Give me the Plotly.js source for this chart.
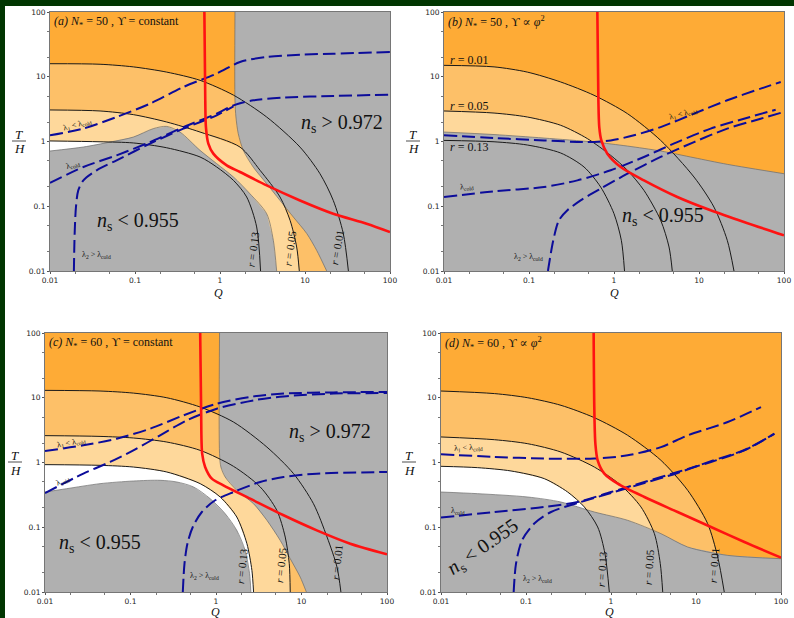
<!DOCTYPE html>
<html><head><meta charset="utf-8">
<script src="https://cdn.plot.ly/plotly-3.0.1.min.js"></script>
<style>
body{margin:0;background:#fff;}
#wrap{position:relative;width:794px;height:618px;overflow:hidden;background:#fff;}
#gtop{position:absolute;left:0;top:0;width:794px;height:6px;background:#013601;}
#gleft{position:absolute;left:0;top:0;width:5px;height:618px;background:#013601;}
#plot{position:absolute;left:0;top:0;width:794px;height:618px;}
</style></head>
<body><div id="wrap"><div id="gtop"></div><div id="gleft"></div><div id="plot"></div></div>
<script>
// ---------- tick labels ----------
const TICKS = [0.01, 0.1, 1, 10, 100];
const TICK_TEXT = ['0.01', '0.1', '1', '10', '100'];
const MINOR = [0.02, 0.05, 0.2, 0.5, 2, 5, 20, 50];

// ---------- panel (a): N*=50, Upsilon = constant ----------
const a_r01_q = [0.01,0.0388,0.0955,0.236,0.582,1.44,3.54,8.73,15.0,21.5,28.2,32.4];
const a_r01_t = [15.9,15.6,14.2,11.8,8.8,5.2,2.39,0.82,0.318,0.123,0.038,0.01];
const a_r05_q = [0.01,0.0388,0.0955,0.236,0.582,1.72,2.96,5.08,6.67,7.98,8.57];
const a_r05_t = [3.07,2.96,2.6,2.0,1.40,0.82,0.359,0.139,0.0607,0.0235,0.01];
const a_r13_q = [0.01,0.0388,0.0955,0.236,0.582,0.914,1.44,2.06,2.7,3.0];
const a_r13_t = [1.02,0.99,0.95,0.80,0.577,0.404,0.251,0.139,0.0479,0.01];
const a_lo_q = [0.01,0.0247,0.0508,0.0955,0.164,0.236,0.338,0.582,0.914,1.44,2.25,3.54,4.24,4.64];
const a_lo_t = [0.713,0.822,0.98,1.17,1.58,1.71,1.40,0.73,0.455,0.283,0.156,0.0767,0.0298,0.01];
const a_hi_q = [1.5,1.5,1.54,1.64,1.88,2.47,3.54,5.08,7.3,10.5,13.7,18.0];
const a_hi_t = [100,4.33,2.39,1.32,0.73,0.40,0.223,0.123,0.068,0.0378,0.0209,0.01];
const a_red_q = [0.655,0.671,0.683,0.729,0.835,1.2,1.72,3.54,8.73,21.5,53.1,100];
const a_red_t = [100,4.33,1.67,0.927,0.649,0.428,0.338,0.21,0.123,0.0767,0.0538,0.04];
const a_l1_q = [0.01,0.0247,0.0608,0.15,0.371,0.914,1.72,3.54,8.73,21.5,100];
const a_l1_t = [1.245,1.58,2.39,3.84,6.95,11.2,16.9,20.2,21.9,22.7,24.1];
const a_lc_q = [0.01,0.0247,0.0608,0.15,0.371,0.914,1.44,2.47,5.56,21.5,100];
const a_lc_t = [0.229,0.404,0.611,0.98,1.67,2.69,3.62,4.33,4.75,5.05,5.28];
const a_l2_q = [0.0191,0.0195,0.0202,0.0215,0.0247,0.0354,0.0608,0.15,0.371,0.914,1.44];
const a_l2_t = [0.01,0.0378,0.097,0.176,0.251,0.359,0.512,0.927,1.58,2.54,3.49];

// ---------- panel (b): N*=50, Upsilon ~ phi^2 ----------
const b_r01_q = [0.01,0.0388,0.0955,0.236,0.582,1.44,3.54,8.73,15.0,21.5,25.8];
const b_r01_t = [15.0,14.2,11.8,8.3,5.17,2.69,1.04,0.283,0.097,0.0298,0.01];
const b_r05_q = [0.01,0.0388,0.0955,0.236,0.485,0.914,1.44,2.25,3.54,4.44,4.85];
const b_r05_t = [2.96,2.75,2.39,1.78,1.11,0.611,0.359,0.176,0.0607,0.0235,0.01];
const b_r13_q = [0.01,0.0388,0.0955,0.236,0.444,0.697,1.0,1.22,1.33];
const b_r13_t = [1.04,0.99,0.883,0.664,0.404,0.198,0.0767,0.0298,0.01];
const b_lo_q = [0.01,0.0388,0.15,0.582,1.44,3.54,8.73,21.5,100];
const b_lo_t = [1.40,1.28,1.13,0.98,0.85,0.713,0.562,0.444,0.318];
const b_red_q = [0.637,0.655,0.671,0.71,0.835,1.2,2.25,5.56,13.7,33.8,100];
const b_red_t = [100,4.33,1.67,1.04,0.649,0.404,0.251,0.139,0.0866,0.0571,0.0356];
const b_l1_q = [0.01,0.0388,0.15,0.485,0.914,1.72,3.54,8.73,21.5,53.1,91.5];
const b_l1_t = [1.245,1.13,1.04,0.98,1.04,1.245,1.67,2.69,4.33,6.55,8.3];
const b_lc_q = [0.01,0.0388,0.15,0.371,0.914,2.25,5.56,13.7,33.8,79.8];
const b_lc_t = [0.139,0.17,0.198,0.251,0.359,0.577,0.98,1.58,2.25,3.1];
const b_l2_q = [0.167,0.193,0.225,0.283,0.405,0.697,1.44,3.54,8.73,21.5,53.1,100];
const b_l2_t = [0.01,0.0298,0.0607,0.0866,0.123,0.187,0.318,0.577,0.98,1.58,2.25,2.86];

// ---------- panel (c): N*=60, Upsilon = constant ----------
const c_r01_q = [0.01,0.044,0.108,0.266,0.653,1.6,3.94,8.07,13.8,19.9,26.0,28.9];
const c_r01_t = [13.0,12.7,11.8,10.0,7.19,4.22,1.73,0.673,0.231,0.0706,0.0243,0.01];
const c_r05_q = [0.01,0.044,0.108,0.266,0.653,1.6,3.29,5.15,6.45,7.19,7.38];
const c_r05_t = [2.6,2.53,2.39,2.07,1.54,0.873,0.419,0.182,0.0706,0.0274,0.01];
const c_r13_q = [0.01,0.044,0.108,0.266,0.653,1.12,1.75,2.3,2.63,2.75];
const c_r13_t = [0.927,0.904,0.851,0.713,0.471,0.293,0.144,0.0557,0.0216,0.01];
const c_lo_q = [0.01,0.0179,0.044,0.108,0.222,0.348,0.545,0.855,1.28,1.75,2.19,2.47,2.56];
const c_lo_t = [0.35,0.394,0.471,0.518,0.531,0.5,0.419,0.276,0.162,0.0895,0.044,0.0192,0.01];
const c_hi_q = [1.1,1.1,1.14,1.28,1.75,2.75,3.94,5.63,7.38,9.66,11.4];
const c_hi_t = [100,1.37,0.853,0.597,0.372,0.231,0.128,0.0628,0.0327,0.017,0.01];
const c_red_q = [0.653,0.67,0.689,0.746,0.894,1.22,2.51,6.17,15.1,37.2,100];
const c_red_t = [100,6.4,1.37,0.853,0.562,0.444,0.276,0.153,0.0895,0.0557,0.0382];
const c_l1_q = [0.01,0.0281,0.069,0.17,0.417,1.02,2.75,6.17,23.8,100];
const c_l1_t = [1.51,1.84,2.33,3.33,5.35,8.1,10.5,11.6,12.1,12.3];
const c_lc_q = [0.01,0.0281,0.0577,0.108,0.222,0.456,1.02,2.75,6.17,23.8,100];
const c_lc_t = [0.338,0.673,1.02,1.54,2.63,4.48,6.78,9.12,10.5,11.6,11.8];
const c_l2_q = [0.409,0.428,0.463,0.535,0.683,0.977,1.6,3.29,6.17,15.1,100];
const c_l2_t = [0.01,0.0274,0.0558,0.101,0.172,0.261,0.35,0.5,0.597,0.673,0.713];

// ---------- panel (d): N*=60, Upsilon ~ phi^2 ----------
const d_r01_q = [0.01,0.0424,0.105,0.258,0.637,1.57,3.87,7.98,13.7,18.0,21.5];
const d_r01_t = [12.7,11.6,10.0,7.64,4.92,2.63,1.08,0.372,0.114,0.0347,0.01];
const d_r05_q = [0.01,0.0424,0.105,0.258,0.637,1.31,2.25,3.24,3.8,4.06];
const d_r05_t = [2.48,2.25,1.95,1.45,0.851,0.444,0.206,0.0796,0.0274,0.01];
const d_r13_q = [0.01,0.027,0.0667,0.164,0.309,0.485,0.697,0.849,0.955];
const d_r13_t = [0.873,0.832,0.74,0.563,0.35,0.206,0.101,0.0391,0.01];
const d_lo_q = [0.01,0.027,0.105,0.258,0.637,1.57,3.87,7.98,23.6,100];
const d_lo_t = [0.35,0.33,0.293,0.245,0.172,0.128,0.0796,0.0495,0.0368,0.0327];
const d_red_q = [0.625,0.637,0.655,0.697,0.835,1.2,2.47,6.08,15.0,37.1,100];
const d_red_t = [100,6.4,1.95,1.08,0.673,0.471,0.293,0.172,0.101,0.0592,0.0339];
const d_l1_q = [0.01,0.0424,0.164,0.637,1.57,3.87,7.98,23.6,58.2];
const d_l1_t = [1.34,1.22,1.15,1.15,1.29,1.73,2.62,4.22,7.19];
const d_lc_q = [0.01,0.0424,0.164,0.405,1.0,2.47,6.08,15.0,37.1,83.6];
const d_lc_t = [0.141,0.172,0.206,0.245,0.35,0.5,0.713,1.02,1.54,2.79];
const d_l2_q = [0.0716,0.0763,0.0897,0.125,0.197,0.405,1.0,2.47,6.08,15.0,37.1,83.6];
const d_l2_t = [0.01,0.0274,0.0628,0.114,0.172,0.237,0.338,0.482,0.69,1.05,1.56,2.77];

// ---------- styling ----------
const COL = {dark:'#FEAB36', med:'#FDC068', light:'#FED89B', white:'#FFFFFF', grey:'#B0B0B0',
             red:'#FF1212', blue:'#0C0C9A', black:'#1a1a1a', edge:'#6a6a6a'};
const QMIN = 0.01, QMAX = 100, TMIN = 0.01, TMAX = 100;
const traces = [];
function ax(i){ return i === 1 ? '' : String(i); }
function fillUnder(i, q, t, color){
  traces.push({type:'scatter', mode:'lines', x:q.concat([QMIN]), y:t.concat([TMIN]),
    xaxis:'x'+ax(i), yaxis:'y'+ax(i), fill:'toself', fillcolor:color, line:{width:0, color:color},
    hoverinfo:'skip', showlegend:false});
}
function fillPoly(i, q, t, color){
  traces.push({type:'scatter', mode:'lines', x:q, y:t, xaxis:'x'+ax(i), yaxis:'y'+ax(i),
    fill:'toself', fillcolor:color, line:{width:0, color:color}, hoverinfo:'skip', showlegend:false});
}
function line(i, q, t, color, width, dash, shape){
  traces.push({type:'scatter', mode:'lines', x:q, y:t, xaxis:'x'+ax(i), yaxis:'y'+ax(i),
    line:{color:color, width:width, dash:dash || 'solid', shape:shape || 'spline', smoothing:0.8},
    hoverinfo:'skip', showlegend:false});
}
const DASH = '13px,5px';
const panels = [
  {i:1, r01:[a_r01_q,a_r01_t], r05:[a_r05_q,a_r05_t], r13:[a_r13_q,a_r13_t], lo:[a_lo_q,a_lo_t], loEdge:'bottom', hi:[a_hi_q,a_hi_t],
   red:[a_red_q,a_red_t], blue:[[a_l1_q,a_l1_t],[a_lc_q,a_lc_t],[a_l2_q,a_l2_t]]},
  {i:2, r01:[b_r01_q,b_r01_t], r05:[b_r05_q,b_r05_t], r13:[b_r13_q,b_r13_t], lo:[b_lo_q,b_lo_t], loEdge:'right', hi:null,
   red:[b_red_q,b_red_t], blue:[[b_l1_q,b_l1_t],[b_lc_q,b_lc_t],[b_l2_q,b_l2_t]]},
  {i:3, r01:[c_r01_q,c_r01_t], r05:[c_r05_q,c_r05_t], r13:[c_r13_q,c_r13_t], lo:[c_lo_q,c_lo_t], loEdge:'bottom', hi:[c_hi_q,c_hi_t],
   red:[c_red_q,c_red_t], blue:[[c_l1_q,c_l1_t],[c_lc_q,c_lc_t],[c_l2_q,c_l2_t]]},
  {i:4, r01:[d_r01_q,d_r01_t], r05:[d_r05_q,d_r05_t], r13:[d_r13_q,d_r13_t], lo:[d_lo_q,d_lo_t], loEdge:'right', hi:null,
   red:[d_red_q,d_red_t], blue:[[d_l1_q,d_l1_t],[d_lc_q,d_lc_t],[d_l2_q,d_l2_t]]}
];
panels.forEach(p => {
  fillUnder(p.i, p.r01[0], p.r01[1], COL.med);
  fillUnder(p.i, p.r05[0], p.r05[1], COL.light);
  fillUnder(p.i, p.r13[0], p.r13[1], COL.white);
  if (p.loEdge === 'bottom') fillPoly(p.i, p.lo[0].concat([QMIN]), p.lo[1].concat([TMIN]), COL.grey);
  else fillPoly(p.i, p.lo[0].concat([QMAX, QMIN]), p.lo[1].concat([TMIN, TMIN]), COL.grey);
  if (p.hi) fillPoly(p.i, p.hi[0].concat([QMAX, QMAX]), p.hi[1].concat([TMIN, TMAX]), COL.grey);
  line(p.i, p.lo[0], p.lo[1], COL.edge, 0.7);
  if (p.hi) line(p.i, p.hi[0], p.hi[1], COL.edge, 0.7);
  [p.r01, p.r05, p.r13].forEach(c => line(p.i, c[0], c[1], COL.black, 1));
  p.blue.forEach(c => line(p.i, c[0], c[1], COL.blue, 2, DASH));
  line(p.i, p.red[0], p.red[1], COL.red, 2.6);
});

// ---------- layout ----------
const W = 794, H = 618;
function px(x){ return x / W; }
function py(y){ return 1 - y / H; }
const axBase = {type:'log', range:[-2, 2], showgrid:false, zeroline:false, showline:true, mirror:true,
  linecolor:'#767676', linewidth:1, ticks:'outside', ticklen:2, tickwidth:1, tickcolor:'#555',
  tickmode:'array', tickvals:TICKS, ticktext:TICK_TEXT,
  tickfont:{family:'DejaVu Sans', size:7.5, color:'#222'},
  minor:{ticks:'outside', ticklen:2, tickcolor:'#777', tickmode:'array', tickvals:MINOR},
  fixedrange:true};
const boxes = [ // [left, right, top, bottom] in pixels
  [50, 390, 12, 271], [444, 784, 12, 271], [45, 387, 333, 592], [441, 781, 333, 592]];
const layout = {width:W, height:H, margin:{l:0, r:0, t:0, b:0}, showlegend:false,
  paper_bgcolor:'rgba(0,0,0,0)', plot_bgcolor:COL.dark, annotations:[], shapes:[]};
boxes.forEach((b, k) => {
  const s = ax(k + 1);
  layout['xaxis' + s] = Object.assign({}, axBase, {domain:[px(b[0]), px(b[1])], anchor:'y' + s});
  layout['yaxis' + s] = Object.assign({}, axBase, {domain:[py(b[3]), py(b[2])], anchor:'x' + s});
});
const SERIF = 'Liberation Serif, DejaVu Serif, serif';
function ann(x, y, text, size, opts){
  layout.annotations.push(Object.assign({xref:'paper', yref:'paper', x:px(x), y:py(y), text:text,
    showarrow:false, xanchor:'center', yanchor:'middle', font:{family:SERIF, size:size, color:'#111'}}, opts || {}));
}
// panel titles
ann(52, 22, '<i>(a) N</i><sub>*</sub> = 50 , ϒ = constant', 12, {xanchor:'left'});
ann(446, 22, '<i>(b) N</i><sub>*</sub> = 50 , ϒ ∝ <i>φ</i><sup>2</sup>', 12, {xanchor:'left'});
ann(47, 343, '<i>(c) N</i><sub>*</sub> = 60 , ϒ = constant', 12, {xanchor:'left'});
ann(443, 343, '<i>(d) N</i><sub>*</sub> = 60 , ϒ ∝ <i>φ</i><sup>2</sup>', 12, {xanchor:'left'});
// spectral index labels
const NS_HI = '<i>n</i><sub>s</sub> > 0.972', NS_LO = '<i>n</i><sub>s</sub> < 0.955';
ann(342, 123, NS_HI, 20); ann(138, 221, NS_LO, 20);
ann(663, 216, NS_LO, 20);
ann(330, 432, NS_HI, 20); ann(100, 543, NS_LO, 20);
ann(483, 547, NS_LO, 20, {textangle:-35});
// tensor-to-scalar labels
const R13 = '<i>r</i> = 0.13', R05 = '<i>r</i> = 0.05', R01 = '<i>r</i> = 0.01';
ann(253, 249, R13, 11, {textangle:-82}); ann(290, 248, R05, 11, {textangle:-82}); ann(337, 248, R01, 11, {textangle:-80});
ann(469, 60, R01, 12); ann(469, 106, R05, 12); ann(469, 147, R13, 12);
ann(242, 566, R13, 11, {textangle:-84}); ann(281, 565, R05, 11, {textangle:-84}); ann(337, 563, R01, 11, {textangle:-84});
ann(602, 569, R13, 11, {textangle:-86}); ann(649, 567, R05, 11, {textangle:-86}); ann(714, 566, R01, 11, {textangle:-86});
// lambda labels
const L1 = 'λ<sub>1</sub> < λ<sub>cold</sub>', LC = 'λ<sub>cold</sub>', L2 = 'λ<sub>2</sub> > λ<sub>cold</sub>';
ann(77, 125, L1, 8, {textangle:-15}); ann(73, 165, LC, 8, {textangle:-17}); ann(96, 255, L2, 8);
ann(683, 114, L1, 8, {textangle:-15}); ann(467, 187, LC, 8, {textangle:-5}); ann(528, 257, L2, 8);
ann(71, 443, L1, 8, {textangle:-10}); ann(63, 481, LC, 8, {textangle:-25}); ann(204, 576, L2, 8);
ann(469, 448, L1, 8, {textangle:-3}); ann(458, 511, LC, 8); ann(537, 579, L2, 8);
// axis titles
[[218, 293], [614, 293], [215, 612], [609, 612]].forEach(c => ann(c[0], c[1], '<i>Q</i>', 12));
[[19, 141], [413, 141], [15, 462], [409, 462]].forEach(c => {
  ann(c[0], c[1] - 7, '<i>T</i>', 13);
  ann(c[0], c[1] + 8, '<i>H</i>', 13);
  layout.shapes.push({type:'line', xref:'paper', yref:'paper', x0:px(c[0] - 7), x1:px(c[0] + 7),
    y0:py(c[1]), y1:py(c[1]), line:{color:'#222', width:0.8}});
});
Plotly.newPlot('plot', traces, layout, {staticPlot:true, displayModeBar:false});
</script></body></html>
